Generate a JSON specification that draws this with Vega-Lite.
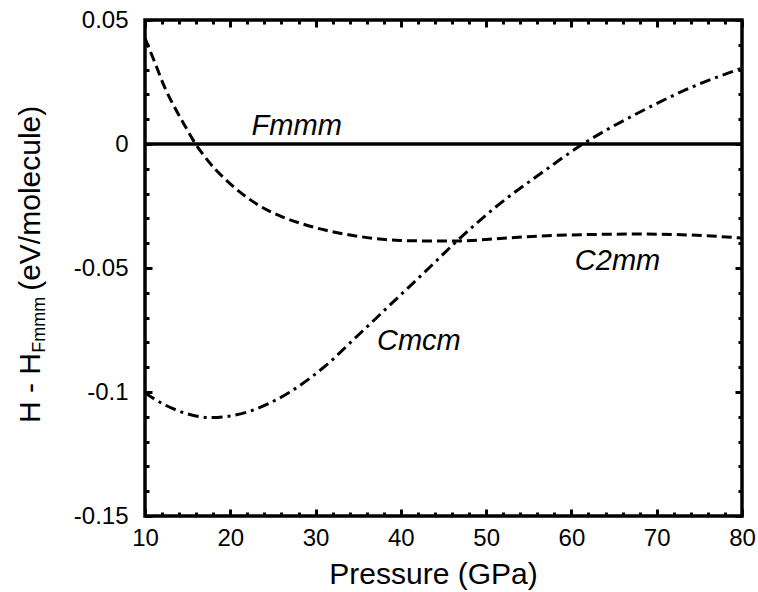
{
  "$schema": "https://vega.github.io/schema/vega-lite/v6.json",
  "width": 597,
  "height": 496,
  "autosize": {"type": "none"},
  "padding": {"left": 145, "top": 20, "right": 16, "bottom": 76},
  "background": "white",
  "config": {
    "view": {"stroke": "black", "strokeWidth": 3.5},
    "font": "Liberation Sans",
    "axis": {
      "grid": false, "domain": false, "tickColor": "black", "tickWidth": 3,
      "labelColor": "black", "labelFont": "Liberation Sans", "labelFontSize": 24,
      "titleColor": "black", "titleFont": "Liberation Sans", "titleFontWeight": "normal",
      "labelFlush": false, "labelOverlap": false
    }
  },
  "datasets": {
    "curves": [
      {"series": "Fmmm", "P": 10, "H": 0},
      {"series": "Fmmm", "P": 80, "H": 0},
      {"series": "C2mm", "P": 10, "H": 0.0427},
      {"series": "C2mm", "P": 11.17, "H": 0.0327},
      {"series": "C2mm", "P": 12.34, "H": 0.0226},
      {"series": "C2mm", "P": 13.52, "H": 0.0145},
      {"series": "C2mm", "P": 14.69, "H": 0.0073},
      {"series": "C2mm", "P": 15.86, "H": 0.0004},
      {"series": "C2mm", "P": 17.03, "H": -0.0052},
      {"series": "C2mm", "P": 18.21, "H": -0.0101},
      {"series": "C2mm", "P": 19.38, "H": -0.0141},
      {"series": "C2mm", "P": 21.14, "H": -0.0194},
      {"series": "C2mm", "P": 23.48, "H": -0.025},
      {"series": "C2mm", "P": 25.83, "H": -0.029},
      {"series": "C2mm", "P": 28.17, "H": -0.0319},
      {"series": "C2mm", "P": 31.1, "H": -0.0347},
      {"series": "C2mm", "P": 34.04, "H": -0.0367},
      {"series": "C2mm", "P": 36.97, "H": -0.0381},
      {"series": "C2mm", "P": 39.9, "H": -0.0389},
      {"series": "C2mm", "P": 43.42, "H": -0.0391},
      {"series": "C2mm", "P": 46.58, "H": -0.0391},
      {"series": "C2mm", "P": 51.62, "H": -0.0381},
      {"series": "C2mm", "P": 56.31, "H": -0.0371},
      {"series": "C2mm", "P": 62.17, "H": -0.0365},
      {"series": "C2mm", "P": 68.04, "H": -0.0363},
      {"series": "C2mm", "P": 73.9, "H": -0.0367},
      {"series": "C2mm", "P": 80, "H": -0.0379},
      {"series": "Cmcm", "P": 10, "H": -0.1004},
      {"series": "Cmcm", "P": 12.34, "H": -0.1052},
      {"series": "Cmcm", "P": 14.69, "H": -0.1085},
      {"series": "Cmcm", "P": 17.62, "H": -0.1103},
      {"series": "Cmcm", "P": 19.97, "H": -0.1097},
      {"series": "Cmcm", "P": 22.31, "H": -0.1077},
      {"series": "Cmcm", "P": 24.66, "H": -0.1044},
      {"series": "Cmcm", "P": 27.0, "H": -0.1},
      {"series": "Cmcm", "P": 29.35, "H": -0.0944},
      {"series": "Cmcm", "P": 31.69, "H": -0.0879},
      {"series": "Cmcm", "P": 34.04, "H": -0.0802},
      {"series": "Cmcm", "P": 36.38, "H": -0.0726},
      {"series": "Cmcm", "P": 38.73, "H": -0.0649},
      {"series": "Cmcm", "P": 41.07, "H": -0.0573},
      {"series": "Cmcm", "P": 43.42, "H": -0.0496},
      {"series": "Cmcm", "P": 46.58, "H": -0.0391},
      {"series": "Cmcm", "P": 51.27, "H": -0.025},
      {"series": "Cmcm", "P": 56.31, "H": -0.0121},
      {"series": "Cmcm", "P": 61.35, "H": 0},
      {"series": "Cmcm", "P": 68.04, "H": 0.0129},
      {"series": "Cmcm", "P": 73.9, "H": 0.0226},
      {"series": "Cmcm", "P": 80, "H": 0.0306}
    ],
    "labels": [
      {"label": "Fmmm", "P": 22.5, "H": 0.0036},
      {"label": "C2mm", "P": 60.4, "H": -0.0508},
      {"label": "Cmcm", "P": 37.2, "H": -0.083}
    ]
  },
  "resolve": {"axis": {"x": "independent", "y": "independent"}},
  "layer": [
    {
      "data": {"name": "curves"},
      "transform": [{"filter": "datum.series === 'Fmmm'"}],
      "mark": {"type": "line", "color": "black", "strokeWidth": 3.5},
      "encoding": {
        "x": {"field": "P", "type": "quantitative",
          "scale": {"domain": [10, 80], "nice": false, "zero": false},
          "axis": {"orient": "bottom", "values": [10, 20, 30, 40, 50, 60, 70, 80], "ticks": false, "tickSize": 0, "labelPadding": 10,
            "title": "Pressure (GPa)", "titleFontSize": 30, "titleBaseline": "alphabetic", "titleY": 67, "titleX": 288}},
        "y": {"field": "H", "type": "quantitative",
          "scale": {"domain": [-0.15, 0.05], "nice": false, "zero": false},
          "axis": {"orient": "left", "values": [-0.15, -0.1, -0.05, 0, 0.05], "ticks": false, "tickSize": 0, "labelPadding": 17,
            "title": null, "labelExpr": "replace(format(datum.value, '~g'), '\u2212', '-')"}}
      }
    },
    {
      "data": {"name": "curves"},
      "transform": [{"filter": "datum.series === 'C2mm'"}],
      "mark": {"type": "line", "color": "black", "strokeWidth": 3, "strokeDash": [10, 5], "interpolate": "monotone"},
      "encoding": {
        "x": {"field": "P", "type": "quantitative",
          "scale": {"domain": [10, 80], "nice": false, "zero": false},
          "axis": {"orient": "bottom", "values": [10, 20, 30, 40, 50, 60, 70, 80], "labels": false, "tickSize": -7, "title": null}},
        "y": {"field": "H", "type": "quantitative",
          "scale": {"domain": [-0.15, 0.05], "nice": false, "zero": false},
          "axis": {"orient": "left", "values": [-0.15, -0.1, -0.05, 0, 0.05], "labels": false, "tickSize": -7, "title": null}}
      }
    },
    {
      "data": {"name": "curves"},
      "transform": [{"filter": "datum.series === 'Cmcm'"}],
      "mark": {"type": "line", "color": "black", "strokeWidth": 3, "strokeDash": [11, 5, 3, 5], "interpolate": "monotone"},
      "encoding": {
        "x": {"field": "P", "type": "quantitative",
          "scale": {"domain": [10, 80], "nice": false, "zero": false},
          "axis": {"orient": "top", "values": [10, 20, 30, 40, 50, 60, 70, 80], "labels": false, "tickSize": -7, "title": null}},
        "y": {"field": "H", "type": "quantitative",
          "scale": {"domain": [-0.15, 0.05], "nice": false, "zero": false},
          "axis": {"orient": "right", "values": [-0.15, -0.1, -0.05, 0, 0.05], "labels": false, "tickSize": -7, "title": null}}
      }
    },
    {
      "data": {"name": "labels"},
      "mark": {"type": "text", "font": "Liberation Sans", "fontStyle": "italic", "fontSize": 29, "align": "left", "baseline": "alphabetic", "color": "black"},
      "encoding": {
        "text": {"field": "label"},
        "x": {"field": "P", "type": "quantitative",
          "scale": {"domain": [10, 80], "nice": false, "zero": false},
          "axis": {"orient": "bottom", "values": [12, 14, 16, 18, 22, 24, 26, 28, 32, 34, 36, 38, 42, 44, 46, 48, 52, 54, 56, 58, 62, 64, 66, 68, 72, 74, 76, 78], "labels": false, "tickSize": -4, "title": null}},
        "y": {"field": "H", "type": "quantitative",
          "scale": {"domain": [-0.15, 0.05], "nice": false, "zero": false},
          "axis": {"orient": "left", "values": [-0.14, -0.13, -0.12, -0.11, -0.09, -0.08, -0.07, -0.06, -0.04, -0.03, -0.02, -0.01, 0.01, 0.02, 0.03, 0.04], "labels": false, "tickSize": -4, "title": null}}
      }
    },
    {
      "data": {"values": [{"t": "H - H"}]},
      "mark": {"type": "text", "font": "Liberation Sans", "fontSize": 30, "angle": 270, "align": "left", "baseline": "alphabetic", "color": "black"},
      "encoding": {
        "text": {"field": "t"},
        "x": {"datum": -2.31, "type": "quantitative",
          "scale": {"domain": [10, 80], "nice": false, "zero": false},
          "axis": {"orient": "top", "values": [12, 14, 16, 18, 22, 24, 26, 28, 32, 34, 36, 38, 42, 44, 46, 48, 52, 54, 56, 58, 62, 64, 66, 68, 72, 74, 76, 78], "labels": false, "tickSize": -4, "title": null}},
        "y": {"datum": -0.1125, "type": "quantitative",
          "scale": {"domain": [-0.15, 0.05], "nice": false, "zero": false},
          "axis": {"orient": "right", "values": [-0.14, -0.13, -0.12, -0.11, -0.09, -0.08, -0.07, -0.06, -0.04, -0.03, -0.02, -0.01, 0.01, 0.02, 0.03, 0.04], "labels": false, "tickSize": -4, "title": null}}
      }
    },
    {
      "data": {"values": [{"t": "Fmmm"}]},
      "mark": {"type": "text", "font": "Liberation Sans", "fontSize": 18, "angle": 270, "align": "left", "baseline": "alphabetic", "color": "black"},
      "encoding": {
        "text": {"field": "t"},
        "x": {"datum": -1.72, "type": "quantitative", "axis": null},
        "y": {"datum": -0.0842, "type": "quantitative", "axis": null}
      }
    },
    {
      "data": {"values": [{"t": "(eV/molecule)"}]},
      "mark": {"type": "text", "font": "Liberation Sans", "fontSize": 30, "angle": 270, "align": "left", "baseline": "alphabetic", "color": "black"},
      "encoding": {
        "text": {"field": "t"},
        "x": {"datum": -2.31, "type": "quantitative", "axis": null},
        "y": {"datum": -0.0592, "type": "quantitative", "axis": null}
      }
    }
  ]
}
